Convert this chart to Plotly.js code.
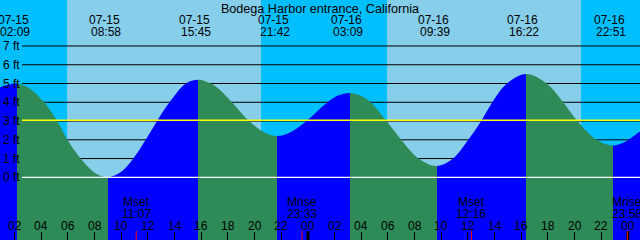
<!DOCTYPE html>
<html><head><meta charset="utf-8">
<script src="https://cdn.plot.ly/plotly-3.0.1.min.js"></script>
<style>html,body{margin:0;padding:0;background:#fff;overflow:hidden;} #chart{width:640px;height:240px;}</style>
</head><body><div id="chart"></div>
<script>
// ---- data ----
const chartTitle = 'Bodega Harbor entrance, California';
const eventDates = ['07-15','07-15','07-15','07-15','07-16','07-16','07-16','07-16'];
const eventTimes = ['02:09','08:58','15:45','21:42','03:09','09:39','16:22','22:51'];
const eventHeights = [5.0, 0.0, 5.2, 2.2, 4.5, 0.6, 5.5, 1.7];
// tide curve readings between the turning points (hours after 07-15 00:00, feet)
const curveHours   = [0.7, 3.2, 4.2, 5.2, 5.95, 6.95, 8.0, 10.0, 10.9, 11.83, 12.68, 13.62, 14.85,
                      16.7, 17.3, 18.3, 19.58, 20.7, 22.7, 23.9, 25.47, 26.3, 28.0, 28.7, 29.9, 30.83,
                      32.3, 34.88, 36.03, 37.0, 37.83, 38.93, 41.9, 43.15, 44.22, 45.65, 47.8, 48.83, 49.1];
const curveHeights = [4.75, 4.7, 4.0, 3.0, 2.0, 1.0, 0.25, 0.3, 1.0, 2.0, 3.0, 4.0, 5.0,
                      5.0, 4.72, 4.0, 3.0, 2.4, 2.4, 3.0, 4.0, 4.37, 4.33, 4.0, 3.0, 2.15,
                      1.0, 1.0, 2.0, 3.0, 4.0, 5.0, 5.0, 4.0, 3.0, 2.0, 1.9, 2.4, 2.5];
const sunrises = ['07-15 05:56', '07-16 05:56'];
const sunsets  = ['07-15 20:29', '07-16 20:29'];
const moonNames = ['Mset', 'Mrise', 'Mset', 'Mrise'];
const moonTimes = ['07-15 11:07', '07-15 23:33', '07-16 12:16', '07-16 23:58'];
const hourTickValues = [2,4,6,8,10,12,14,16,18,20,22,24,26,28,30,32,34,36,38,40,42,44,46,48];
const hourTickLabels = ['02','04','06','08','10','12','14','16','18','20','22','00',
                        '02','04','06','08','10','12','14','16','18','20','22','00'];
const midnightValues = [24, 48];
const heightTickValues = [0,1,2,3,4,5,6,7];
const heightTickLabels = ['0 ft','1 ft','2 ft','3 ft','4 ft','5 ft','6 ft','7 ft'];
const meanLevel = 3.04;

// ---- helpers ----
function toHours(s){
  const parts = s.split(' ');
  const day = parseInt(parts[0].split('-')[1], 10) - 15;
  const hm = parts[1].split(':').map(Number);
  return day*24 + hm[0] + hm[1]/60;
}
const W = 640, H = 240;
const FONT = {family:'"Liberation Sans", Arial, sans-serif', size:12, color:'#000'};
const TITLE_FONT = {family:'"Liberation Sans", Arial, sans-serif', size:12.6, color:'#000'};
const RISE = '#0000ff', FALL = '#2e8b57', NIGHT = '#00bfff', DAY = '#87ceeb';
const xRange = [0.9, 48.91];
const yRange = [-3.34, 9.45];

const eventHours = eventDates.map((d,i)=>toHours(d+' '+eventTimes[i]));
const pts = curveHours.map((t,i)=>[t, curveHeights[i]])
  .concat(eventHours.map((t,i)=>[t, eventHeights[i]]))
  .sort((a,b)=>a[0]-b[0]);
const xs = pts.map(p=>p[0]), ys = pts.map(p=>p[1]);
const t0 = xs[0], t1 = xs[xs.length-1];

// rising = blue, falling = green : hard-stop horizontal gradient
let col = eventHeights[0] > eventHeights[1] ? RISE : FALL;
const cs = [[0, col]];
eventHours.forEach(t=>{
  const f = (t - t0)/(t1 - t0);
  cs.push([f, col]);
  col = (col === RISE) ? FALL : RISE;
  cs.push([f, col]);
});
cs.push([1, col]);

const traces = [
  {x:[t0, t1], y:[yRange[0]-3, yRange[0]-3], mode:'lines', line:{width:0}, hoverinfo:'skip', showlegend:false},
  {x:xs, y:ys, mode:'lines', line:{shape:'spline', smoothing:1, width:0, color:FALL}, fill:'tonexty', fillcolor:FALL,
   fillgradient:{type:'horizontal', start:t0, stop:t1, colorscale:cs}, hoverinfo:'skip', showlegend:false}
];

// ---- shapes ----
const shapes = [];
const rises = sunrises.map(toHours), sets = sunsets.map(toHours);
let prev = xRange[0] - 2;
rises.forEach((r,i)=>{
  shapes.push({type:'rect', layer:'below', xref:'x', yref:'paper', x0:prev, x1:r, y0:0, y1:1, fillcolor:NIGHT, line:{width:0}});
  shapes.push({type:'rect', layer:'below', xref:'x', yref:'paper', x0:r, x1:sets[i], y0:0, y1:1, fillcolor:DAY, line:{width:0}});
  prev = sets[i];
});
shapes.push({type:'rect', layer:'below', xref:'x', yref:'paper', x0:prev, x1:xRange[1]+2, y0:0, y1:1, fillcolor:NIGHT, line:{width:0}});
heightTickValues.forEach(v=>{
  if (v === 0) return;
  shapes.push({type:'line', layer:'below', xref:'paper', yref:'y', x0:22/W, x1:1, y0:v, y1:v, line:{color:'#000', width:1}});
});
shapes.push({type:'line', layer:'above', xref:'paper', yref:'y', x0:22/W, x1:1, y0:0, y1:0, line:{color:'#fff', width:1.3}});
shapes.push({type:'line', layer:'above', xref:'paper', yref:'y', x0:22/W, x1:1, y0:meanLevel, y1:meanLevel, line:{color:'#ffff00', width:1.4}});
midnightValues.forEach(v=>{
  shapes.push({type:'line', layer:'above', xref:'x', yref:'paper', x0:v, x1:v, y0:0, y1:9/H, line:{color:'#000', width:3}});
});
moonTimes.forEach(s=>{
  const t = toHours(s);
  shapes.push({type:'line', layer:'above', xref:'x', yref:'paper', x0:t, x1:t, y0:0, y1:9/H, line:{color:'#ff0000', width:1}});
});

// ---- annotations ----
const ann = [];
function txt(x, xref, ypx, text, xanchor, xshift){
  ann.push({x:x, xref:xref, y:1 - ypx/H, yref:'paper', text:text, showarrow:false, font:FONT,
            xanchor:xanchor||'center', yanchor:'middle', xshift:xshift||0, borderpad:0});
}
eventHours.forEach((t,i)=>{
  txt(t, 'x', 20, eventDates[i], 'center', -3.5);
  txt(t, 'x', 32, eventTimes[i], 'center', -2);
});
moonTimes.forEach((s,i)=>{
  const t = toHours(s);
  txt(t, 'x', 202, moonNames[i], 'center', 0);
  txt(t, 'x', 213.5, s.split(' ')[1], 'center', 0);
});
hourTickValues.forEach((v,i)=> txt(v, 'x', 226, hourTickLabels[i], 'center', 0));
heightTickValues.forEach((v,i)=>{
  ann.push({x:21/W, xref:'paper', y:v, yref:'y', text:heightTickLabels[i], showarrow:false, font:FONT,
            xanchor:'right', yanchor:'middle', borderpad:0});
});

const layout = {
  width:W, height:H, margin:{l:0, r:0, t:0, b:0, pad:0},
  paper_bgcolor:NIGHT, plot_bgcolor:NIGHT, showlegend:false,
  title:{text:chartTitle, font:TITLE_FONT, x:0.5, xanchor:'center', y:1 - 8.5/H, yanchor:'middle', yref:'container'},
  xaxis:{range:xRange, showgrid:false, zeroline:false, showline:false, showticklabels:false,
         tickmode:'array', tickvals:hourTickValues, ticks:'inside', ticklen:8, tickwidth:1, tickcolor:'#000', fixedrange:true},
  yaxis:{range:yRange, visible:false, fixedrange:true},
  shapes:shapes, annotations:ann
};
Plotly.newPlot('chart', traces, layout, {staticPlot:true, displayModeBar:false});
</script></body></html>
